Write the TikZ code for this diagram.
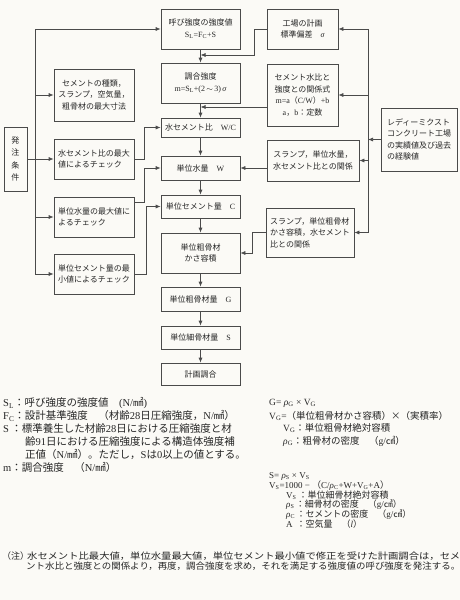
\documentclass[tikz,border=0pt]{standalone}
\usepackage{fontspec}
\usepackage{graphicx}
\setmainfont{Noto Sans CJK JP}
\newfontfamily\lat{Liberation Serif}
\usetikzlibrary{arrows.meta}
\newcommand\ls[1]{{\lat #1}}
\newcommand\sbs[1]{\textsubscript{#1}}
\newcommand\gk[1]{{\lat\itshape #1}}
\definecolor{ink}{HTML}{262626}
\definecolor{line}{HTML}{4A4A4A}
\definecolor{paper}{HTML}{FBFAF6}
\begin{document}
\begin{tikzpicture}[x=1pt,y=-1pt,
  box/.style={draw=line,line width=0.7pt,inner sep=1pt,align=center,text=ink,font=\fontsize{8}{11.5}\selectfont},
  wh/.style 2 args={minimum width=#1pt,minimum height=#2pt},
  ln/.style={draw=line,line width=0.7pt},
  arr/.style={ln,-{Latex[length=5pt,width=4pt]}},
  note/.style={anchor=west,inner sep=0pt,text=ink,font=\fontsize{10.5}{12}\selectfont},
  noteb/.style={note,font=\fontsize{9.5}{12}\selectfont},
  notec/.style={note,font=\fontsize{9}{10}\selectfont},
  foot/.style={note,font=\fontsize{9}{10}\selectfont}]
\useasboundingbox (0,0) rectangle (460,600);
\fill[paper] (0,0) rectangle (460,600);

% centre column
\node[box,wh={79}{40}] (b1) at (200.5,29) {呼び強度の強度値\\\ls{S\sbs{L}=F\sbs{C}+S}};
\node[box,wh={79}{40}] (b2) at (200.5,83) {調合強度\\\ls{m=S\sbs{L}+(2\,}$\sim$\ls{\,3)\,}\gk{σ}};
\node[box,wh={79}{19}] (b3) at (200.5,127.5) {水セメント比\quad\ls{W/C}};
\node[box,wh={79}{24}] (b4) at (200.5,168) {単位水量\quad\ls{W}};
\node[box,wh={79}{23}] (b5) at (200.5,206.5) {単位セメント量\quad\ls{C}};
\node[box,wh={79}{40}] (b6) at (200.5,253) {単位粗骨材\\かさ容積};
\node[box,wh={79}{24}] (b7) at (200.5,299) {単位粗骨材量\quad\ls{G}};
\node[box,wh={79}{23}] (b8) at (200.5,337.5) {単位細骨材量\quad\ls{S}};
\node[box,wh={79}{22}] (b9) at (200.5,374) {計画調合};

% right column
\node[box,wh={71}{40}] (r1) at (302.5,29) {工場の計画\\標準偏差\quad\gk{σ}};
\node[box,wh={71}{62}] (r2) at (302.5,95) {セメント水比と\\強度との関係式\\\ls{m=a}（\ls{C/W}）\ls{+b}\\\ls{a}，\ls{b}：定数};
\node[box,wh={92}{41}] (r3) at (313,160.5) {スランプ，単位水量，\\水セメント比との関係};
\node[box,wh={88}{49},align=left] (r4) at (310,232.5) {スランプ，単位粗骨材\\かさ容積，水セメント\\比との関係};
\node[box,wh={76}{63},align=left] (rm) at (419,139.5) {レディーミクスト\\コンクリート工場\\の実績値及び過去\\の経験値};

% left column
\node[box,wh={23}{64},font=\fontsize{8}{12.5}\selectfont] (o) at (15.5,159) {発\\注\\条\\件};
\node[box,wh={80}{52}] (l1) at (94,95) {セメントの種類，\\スランプ，空気量，\\粗骨材の最大寸法};
\node[box,wh={80}{40},align=left] (l2) at (94,159) {水セメント比の最大\\値によるチェック};
\node[box,wh={80}{40},align=left] (l3) at (94,217) {単位水量の最大値に\\よるチェック};
\node[box,wh={80}{40},align=left] (l4) at (94,274) {単位セメント量の最\\小値によるチェック};

% centre arrows
\draw[arr] (b1.south) -- (b2.north);
\draw[arr] (b2.south) -- (b3.north);
\draw[arr] (b3.south) -- (b4.north);
\draw[arr] (b4.south) -- (b5.north);
\draw[arr] (b5.south) -- (b6.north);
\draw[arr] (b6.south) -- (b7.north);
\draw[arr] (b7.south) -- (b8.north);
\draw[arr] (b8.south) -- (b9.north);

% right side inputs
\coordinate (j1) at (200.5,55);
\coordinate (j2) at (200.5,107);
\draw[arr] (r1.west) -- ++(-12,0) |- (j1);
\draw[arr] ([yshift=-12pt]r2.west) -- (j2);
\draw[arr] (r3.west |- b4.east) -- (b4.east);
\draw[arr] (r4.west) -- ++(-13,0) |- (b6.east);

% ready-mixed trunk
\coordinate (k1) at (368,29);
\coordinate (k4) at (368,232.5);
\draw[ln] (k1) -- (k4);
\draw[arr] (k1) -- (r1.east);
\draw[arr] (k1 |- r2.east) -- (r2.east);
\draw[arr] (k1 |- r3.east) -- (r3.east);
\draw[arr] (k4) -- (r4.east);
\draw[arr] (rm.west) -- (rm.west -| k1);

% order-condition trunk
\coordinate (t1) at (35,29);
\coordinate (t5) at (35,274);
\draw[ln] (t1) -- (t5);
\draw[arr] (t1) -- (b1.west);
\draw[arr] (t1 |- l1.west) -- (l1.west);
\draw[arr] (o.east) -- (l2.west);
\draw[arr] (t1 |- l3.west) -- (l3.west);
\draw[arr] (t5) -- (l4.west);

% checks to centre
\draw[arr] (l2.east) -- ++(10,0) |- (b3.west);
\draw[arr] ([yshift=15pt]l3.east) -- ++(10,0) |- (b4.west);
\draw[arr] (l4.east) -- ++(12,0) |- (b5.west);

% notes left
\node[note] (n1) at (3,403) {\ls{S\sbs{L}}：呼び強度の強度値　\ls{(N/}㎟\ls{)}};
\node[note] (n2) at (3,416) {\ls{F\sbs{C}}：設計基準強度　（材齢\ls{28}日圧縮強度，\ls{N/}㎟）};
\node[note] (n3) at (3,429) {\ls{S}\ ：標準養生した材齢\ls{28}日における圧縮強度と材};
\node[note] (n4) at (25,442) {齢\ls{91}日における圧縮強度による構造体強度補};
\node[note] (n5) at (25,454) {正値（\ls{N/}㎟）。ただし，\ls{S}は\ls{0}以上の値とする。};
\node[note] (n6) at (3,467) {\ls{m}：調合強度　（\ls{N/}㎟）};

% notes right
\node[noteb] (g1) at (269,403) {\ls{G= }\gk{ρ}\ls{\sbs{G} × V\sbs{G}}};
\node[noteb] (g2) at (269,416) {\ls{V\sbs{G}=}（単位粗骨材かさ容積）×（実積率）};
\node[noteb] (g3) at (283,428) {\ls{V\sbs{G}}：単位粗骨材絶対容積};
\node[noteb] (g4) at (283,441) {\gk{ρ}\ls{\sbs{G}}：粗骨材の密度　（\ls{g/}㎤）};
\node[notec] (s1) at (269,476) {\ls{S= }\gk{ρ}\ls{\sbs{S} × V\sbs{S}}};
\node[notec] (s2) at (269,485.5) {\ls{V\sbs{S}=1000 − }（\ls{C/}\gk{ρ}\ls{\sbs{C}+W+V\sbs{G}+A}）};
\node[notec] (s3) at (286,495) {\ls{V\sbs{S}}\ ：単位細骨材絶対容積};
\node[notec] (s4) at (286,505) {\gk{ρ}\ls{\sbs{S}}\,：細骨材の密度　（\ls{g/}㎤）};
\node[notec] (s5) at (286,514.5) {\gk{ρ}\ls{\sbs{C}}\,：セメントの密度　（\ls{g/}㎤）};
\node[notec] (s6) at (286,524) {\ls{A}\ \ ：空気量　（\gk{l}）};

% footnote
\node[foot] (f0) at (2,556) {（注）};
\node[foot] (f1) at (27,556) {\resizebox{433pt}{\height}{水セメント比最大値，単位水量最大値，単位セメント最小値で修正を受けた計画調合は，セメ}};
\node[foot] (f2) at (26,566) {\resizebox{434pt}{\height}{ント水比と強度との関係より，再度，調合強度を求め，それを満足する強度値の呼び強度を発注する。}};
\end{tikzpicture}
\end{document}
